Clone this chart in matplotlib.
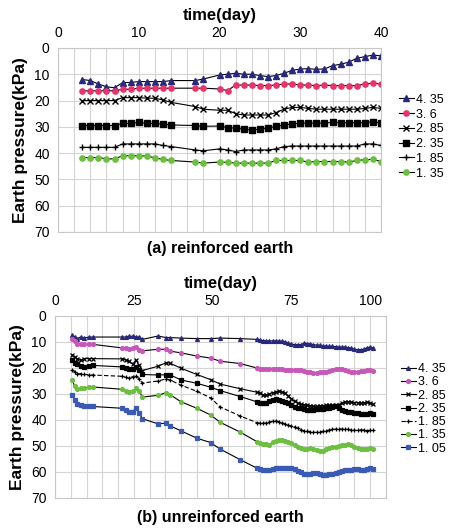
import matplotlib
matplotlib.use("Agg")
import matplotlib.pyplot as plt
from matplotlib.ticker import MultipleLocator, NullFormatter

plt.rcParams['font.family'] = ['Liberation Sans', 'DejaVu Sans']

# ---- (a) reinforced earth ----
days_a = [3, 4, 5, 6, 7, 8, 9, 10, 11, 12, 13, 14, 17, 18,
          20, 21, 22, 23, 24, 25, 26, 27, 28, 29, 30, 31, 32, 33, 34, 35, 36, 37, 38, 39, 40]
a_435 = [12.0, 12.4, 13.7, 14.8, 15.1, 13.2, 13.1, 12.8, 12.8, 12.8, 12.8, 12.4, 12.4, 11.8,
         10.3, 10.0, 9.6, 10.0, 10.0, 10.5, 10.9, 10.5, 9.6, 8.5, 8.0, 7.9, 8.1, 8.0, 6.7, 6.2, 5.4, 3.9, 3.3, 2.7, 3.0]
a_36 = [16.3, 16.3, 16.3, 16.3, 16.3, 15.7, 15.7, 15.3, 15.3, 15.3, 15.3, 15.3, 15.3, 15.3,
        15.6, 16.2, 14.1, 14.1, 14.1, 14.3, 14.3, 14.1, 13.7, 13.7, 14.1, 14.1, 14.3, 14.1, 14.3, 14.3, 14.3, 14.3, 13.7, 13.4, 13.7]
a_285 = [20.0, 20.0, 20.0, 20.0, 20.0, 18.9, 18.9, 18.9, 19.1, 19.1, 19.8, 20.7, 22.3, 23.3,
         23.7, 23.7, 25.0, 25.5, 25.5, 25.5, 25.5, 24.6, 23.3, 22.6, 22.6, 23.0, 23.3, 23.3, 23.3, 23.3, 23.3, 23.3, 23.0, 22.6, 23.0]
a_235 = [29.5, 29.5, 29.5, 29.5, 29.5, 28.7, 28.7, 28.3, 28.7, 28.7, 29.0, 29.3, 29.5, 29.8,
         29.7, 30.3, 30.5, 30.9, 31.2, 30.9, 30.5, 29.8, 29.3, 28.9, 28.6, 28.6, 28.6, 28.6, 28.3, 28.5, 28.5, 28.5, 28.5, 28.0, 28.6]
a_185 = [37.8, 37.8, 37.8, 37.8, 37.8, 36.5, 36.5, 36.5, 36.5, 36.5, 37.1, 37.5, 38.8, 39.1,
         38.4, 38.8, 39.4, 38.8, 38.8, 38.8, 38.8, 38.4, 37.5, 37.3, 37.3, 37.3, 37.3, 37.3, 37.3, 37.3, 37.3, 37.3, 36.5, 36.5, 37.1]
a_135 = [41.7, 41.7, 41.7, 42.2, 42.2, 41.0, 41.0, 41.0, 41.1, 41.8, 42.4, 42.8, 43.4, 43.8,
         43.4, 43.5, 43.8, 43.8, 43.8, 43.8, 43.8, 42.8, 42.8, 42.8, 42.8, 43.4, 43.2, 43.2, 43.2, 43.2, 43.4, 42.8, 42.5, 42.4, 43.2]

# ---- (b) unreinforced earth ----
days_b = [5.5, 6.2, 7.1, 8.1, 9.2, 10.8, 11.9,
          21.4, 22.4, 23.5, 24.6, 25.7, 26.7, 27.7,
          32.7, 35.2, 36.4, 40, 45, 49.4, 52.4, 58.8,
          64, 65, 66, 67, 68, 69, 70, 71, 72, 73, 74, 75, 76, 77, 78, 79, 80, 81, 82,
          83, 84, 85, 86, 87, 88, 89, 90, 91, 92, 93, 94, 95, 96, 97, 98, 99, 100, 101]
b_435 = [7.2, 8.1, 8.7, 8.1, 8.5, 8.1, 8.1,
         8.1, 8.1, 7.8, 7.8, 8.1, 8.1, 9.0,
         7.7, 8.3, 8.3, 8.5, 8.7, 8.7, 8.5, 8.7,
         9.0, 9.2, 9.5, 9.6, 9.6, 9.6, 9.6, 9.7, 9.8, 10.0, 10.5, 10.8, 11.0, 11.0, 11.0, 10.5, 10.6, 10.8, 11.0,
         11.2, 11.3, 11.5, 11.6, 11.7, 11.7, 11.8, 12.0, 12.0, 12.0, 12.2, 12.4, 12.8, 13.0, 13.0, 12.8, 12.2, 12.0, 12.3]
b_36 = [8.7, 9.7, 10.6, 10.6, 10.9, 10.9, 10.9,
        12.3, 12.3, 12.6, 12.3, 11.8, 13.2, 13.4,
        12.8, 12.8, 13.5, 14.2, 15.4, 16.2, 17.4, 18.3,
        20.0, 20.2, 20.4, 20.3, 20.4, 20.5, 20.5, 20.5, 20.5, 20.6, 20.6, 20.6, 20.6, 20.7, 20.9, 21.2, 21.5, 21.7, 21.9,
        21.9, 21.7, 21.5, 21.4, 21.0, 20.6, 20.4, 20.3, 20.5, 20.9, 21.3, 21.5, 21.5, 21.4, 21.3, 21.2, 20.9, 20.9, 21.2]
b_285 = [15.1, 15.8, 16.4, 17.1, 16.4, 16.4, 16.4,
         16.5, 16.8, 17.5, 18.5, 17.0, 19.0, 21.0,
         19.3, 18.0, 18.1, 20.1, 22.5, 24.5, 26.2, 28.0,
         29.3, 29.7, 30.3, 30.5, 30.0, 29.5, 29.2, 29.0, 29.3, 29.8, 30.8, 31.8, 32.8, 33.5, 34.0, 34.2, 34.3, 34.5, 34.8,
         34.8, 34.6, 34.5, 34.3, 34.4, 34.4, 34.3, 34.1, 33.5, 33.0, 33.0, 33.1, 33.3, 33.4, 33.5, 33.4, 33.1, 33.5, 34.0]
b_235 = [17.0, 18.0, 18.5, 19.3, 19.5, 19.2, 19.0,
         19.6, 20.0, 20.3, 20.5, 19.8, 20.9, 22.5,
         22.7, 22.6, 22.6, 24.6, 25.9, 27.4, 28.7, 31.0,
         33.0, 33.5, 33.6, 33.3, 32.6, 32.2, 32.1, 32.3, 32.6, 33.0, 33.6, 34.4, 34.9, 35.2, 35.5, 35.8, 36.0, 36.2, 36.1,
         35.9, 35.7, 35.6, 35.4, 35.2, 34.9, 34.8, 35.2, 36.2, 36.7, 36.9, 37.1, 37.3, 37.4, 37.6, 37.8, 37.6, 37.5, 37.7]
b_185 = [20.6, 21.5, 22.2, 22.2, 22.5, 22.6, 22.7,
         23.2, 23.6, 23.8, 23.4, 22.9, 24.2, 25.8,
         25.0, 24.2, 24.6, 26.6, 29.0, 31.5, 35.0, 38.5,
         41.0, 41.2, 41.3, 41.1, 40.8, 40.5, 40.4, 40.6, 41.0, 41.5, 42.0, 42.4, 42.7, 43.2, 43.8, 44.1, 44.3, 44.5, 44.7,
         44.8, 44.6, 44.4, 44.1, 43.9, 43.6, 43.5, 43.4, 43.5, 43.6, 43.6, 43.8, 44.0, 44.0, 43.8, 43.9, 44.1, 43.9, 44.0]
b_135 = [24.7, 26.9, 28.2, 27.7, 27.7, 27.3, 27.3,
         28.2, 29.0, 29.2, 29.0, 27.7, 28.8, 31.2,
         30.5, 29.5, 30.2, 33.0, 35.5, 38.1, 40.9, 44.7,
         48.3, 48.8, 49.1, 49.2, 49.5, 48.6, 48.0, 47.7, 47.7, 47.9, 48.3, 49.0, 49.6, 50.4, 50.9, 51.2, 51.1, 50.9, 51.1,
         51.5, 52.0, 51.8, 51.3, 50.9, 50.5, 50.2, 50.0, 49.8, 49.6, 49.4, 49.6, 50.2, 50.8, 51.3, 51.3, 51.0, 50.8, 51.3]
b_105 = [30.3, 32.5, 33.8, 34.2, 34.5, 34.8, 34.8,
         35.5, 36.3, 36.8, 36.8, 35.3, 37.3, 39.5,
         41.5, 41.2, 42.2, 44.2, 47.0, 48.7, 51.2, 55.3,
         58.5, 59.0, 59.2, 59.4, 59.4, 59.0, 58.5, 58.3, 58.3, 58.3, 58.4, 58.6, 59.0, 59.5, 60.0, 60.6, 60.8, 60.7, 60.4,
         60.3, 60.6, 61.0, 61.2, 60.9, 60.6, 60.3, 60.0, 59.6, 59.2, 59.2, 59.3, 59.0, 59.0, 59.2, 59.3, 58.8, 58.4, 58.8]

labels = ['4. 35', '3. 6', '2. 85', '2. 35', '1. 85', '1. 35', '1. 05']

fig = plt.figure(figsize=(4.49, 5.30), dpi=100)
ax1 = fig.add_axes([0.1292, 0.5623, 0.7194, 0.3472])
ax2 = fig.add_axes([0.1225, 0.0604, 0.7372, 0.3434])

navy = '#28287f'
grid_c = '#d4d4d4'

# top chart
styles_a = [
    (a_435, '^', navy, '-'),
    (a_36, 'o', '#e8336b', '-'),
    (a_285, 'x', 'black', '-'),
    (a_235, 's', 'black', '-'),
    (a_185, '+', 'black', '-'),
    (a_135, 'o', '#6cbf3f', '-'),
]
for (vals, mk, col, ls), lab in zip(styles_a, labels):
    ax1.plot(days_a, vals, color='black', lw=0.8, ls=ls, marker=mk, ms=3.8,
             mfc=col, mec=col, mew=1.0, label=lab)

# bottom chart
styles_b = [
    (b_435, '^', navy, '-'),
    (b_36, 'o', '#c858b8', '-'),
    (b_285, 'x', 'black', '-'),
    (b_235, 's', 'black', '-'),
    (b_185, '+', 'black', (0, (4, 2))),
    (b_135, 'o', '#6cbf3f', '-'),
    (b_105, 's', '#3a5bb5', '-'),
]
for (vals, mk, col, ls), lab in zip(styles_b, labels):
    ax2.plot(days_b, vals, color='black', lw=0.8, ls=ls, marker=mk, ms=2.8,
             mfc=col, mec=col, mew=0.9, label=lab)

for ax, xmax, major, minor in [(ax1, 40, 10, 2), (ax2, 105, 25, 5)]:
    ax.set_xlim(0, xmax)
    ax.set_ylim(70, 0)
    ax.xaxis.set_major_locator(MultipleLocator(major))
    ax.xaxis.set_minor_locator(MultipleLocator(minor))
    ax.xaxis.set_minor_formatter(NullFormatter())
    ax.yaxis.set_major_locator(MultipleLocator(10))
    ax.xaxis.tick_top()
    ax.xaxis.set_label_position('top')
    ax.tick_params(which='both', length=0, labelsize=10, pad=6)
    ax.grid(True, which='both', color=grid_c, lw=0.8)
    ax.set_axisbelow(True)
    for sp in ax.spines.values():
        sp.set_color('#c8c8c8')
        sp.set_linewidth(0.8)
    ax.set_xlabel('time(day)', fontsize=12, fontweight='bold', labelpad=4)
    ax.set_ylabel('Earth pressure(kPa)', fontsize=12.5, fontweight='bold', labelpad=4)

ax2.set_xticks([0, 25, 50, 75, 100])
ax2.set_xlim(0, 105)

ax1.legend(loc='upper left', bbox_to_anchor=(1.035, 0.785), frameon=False,
           fontsize=9, handlelength=1.2, handletextpad=0.2, labelspacing=0.22,
           borderpad=0)
ax2.legend(loc='upper left', bbox_to_anchor=(1.025, 0.775), frameon=False,
           fontsize=9, handlelength=1.2, handletextpad=0.2, labelspacing=0.1,
           borderpad=0)

fig.text(0.49, 0.532, '(a) reinforced earth', ha='center', va='center', fontsize=11.5, fontweight='bold')
fig.text(0.49, 0.023, '(b) unreinforced earth', ha='center', va='center', fontsize=11.5, fontweight='bold')

plt.savefig('out.png', dpi=100)
plt.close()
